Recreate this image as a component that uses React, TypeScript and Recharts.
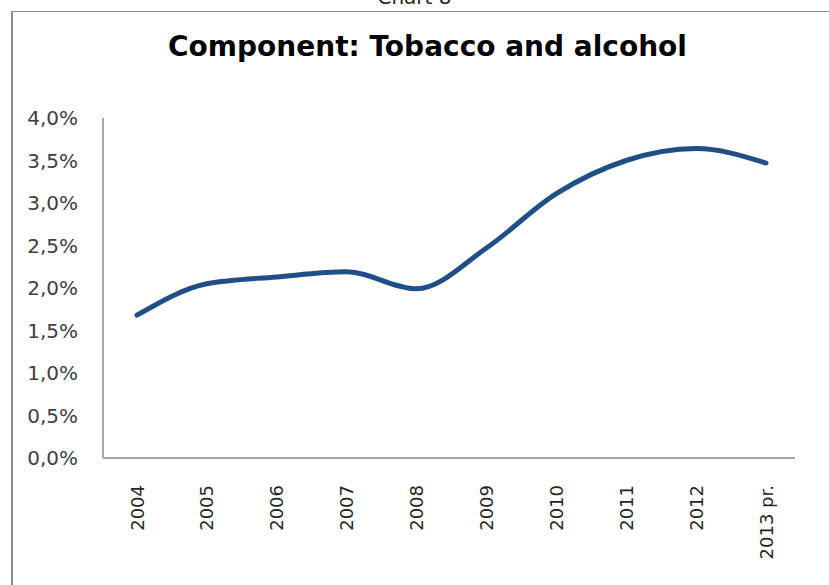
import React from 'react';
import { LineChart, Line, XAxis, YAxis } from 'recharts';

// Share of the component, in percent
const years = ['2004', '2005', '2006', '2007', '2008', '2009', '2010', '2011', '2012', '2013 pr.'];
const shares = [1.68, 2.05, 2.13, 2.19, 1.99, 2.47, 3.11, 3.5, 3.64, 3.47];
const yTicks = [0, 0.5, 1, 1.5, 2, 2.5, 3, 3.5, 4];

const data = years.map((year, i) => ({ year, share: shares[i] }));

const font = '"DejaVu Sans", Verdana, sans-serif';

const formatPct = (v: number) => `${v.toFixed(1).replace('.', ',')}%`;

// Year labels rotated to read bottom-to-top, ending just under the axis
const YearTick = (props: any) => {
  const { x, y, payload } = props;
  return (
    <text
      x={0}
      y={0}
      transform={`translate(${x},${y + 19}) rotate(-90)`}
      textAnchor="end"
      dominantBaseline="central"
      fontFamily={font}
      fontSize={18}
      fill="#262626"
    >
      {payload.value}
    </text>
  );
};

export default function App() {
  return (
    <div
      style={{
        position: 'absolute',
        left: 0,
        top: 0,
        width: 829,
        height: 585,
        overflow: 'hidden',
        background: '#fff',
      }}
    >
      <div
        style={{
          position: 'absolute',
          left: 0,
          top: -15,
          width: 829,
          textAlign: 'center',
          fontFamily: font,
          fontSize: 20,
          color: '#262626',
        }}
      >
        Chart 8
      </div>
      <div
        style={{
          position: 'absolute',
          left: 11,
          top: 11,
          width: 860,
          height: 620,
          borderTop: '1px solid #8c8c8c',
          borderLeft: '2px solid #8c8c8c',
        }}
      />
      <div
        style={{
          position: 'absolute',
          left: 0,
          top: 30,
          width: 829,
          textAlign: 'center',
          paddingLeft: 26,
          boxSizing: 'border-box',
          fontFamily: font,
          fontWeight: 'bold',
          fontSize: 28,
          color: '#000',
        }}
      >
        Component: Tobacco and alcohol
      </div>
      <div style={{ position: 'absolute', left: 0, top: 0 }}>
        <LineChart
          width={829}
          height={585}
          data={data}
          margin={{ top: 118, right: 34, left: 25, bottom: 17 }}
        >
          <XAxis
            dataKey="year"
            height={110}
            interval={0}
            padding={{ left: 34, right: 29 }}
            tickLine={false}
            tick={<YearTick />}
            axisLine={{ stroke: '#a6a6a6', strokeWidth: 2 }}
          />
          <YAxis
            width={78}
            domain={[0, 4]}
            ticks={yTicks}
            tickFormatter={formatPct}
            tickLine={false}
            tickSize={0}
            tickMargin={25}
            axisLine={{ stroke: '#a6a6a6', strokeWidth: 2 }}
            tick={{ fontFamily: font, fontSize: 20, fill: '#404040' }}
          />
          <Line
            type="monotone"
            dataKey="share"
            stroke="#1f4e89"
            strokeWidth={5}
            strokeLinecap="round"
            dot={false}
            isAnimationActive={false}
          />
        </LineChart>
      </div>
    </div>
  );
}
